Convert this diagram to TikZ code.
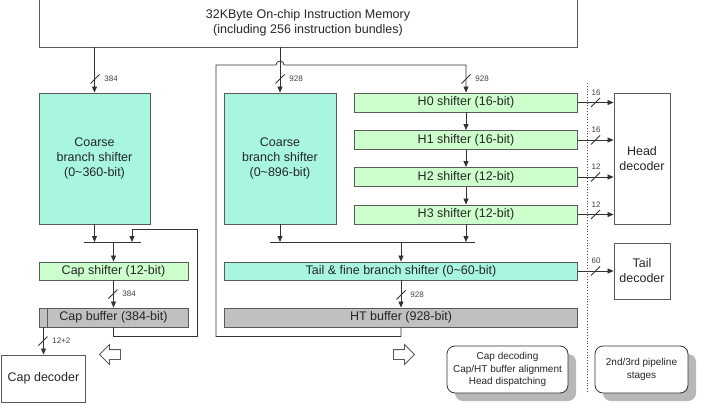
\documentclass[tikz,border=0pt]{standalone}
\usepackage{fontspec}
\setmainfont{Liberation Sans}
\usetikzlibrary{arrows.meta,shapes.arrows,shadows}
\definecolor{mintfill}{HTML}{A8F5E0}
\definecolor{shiftfill}{HTML}{CCFFCC}
\definecolor{buffill}{HTML}{C0C0C0}
\definecolor{edgegray}{HTML}{5A5A5A}
\begin{document}
\begin{tikzpicture}[x=1pt,y=-1pt,font=\fontsize{12.5}{15}\selectfont,
  >={Triangle[length=6pt,width=5pt]},
  box/.style={draw=edgegray,line width=.9pt,inner sep=0pt,align=center,text=black!85},
  wire/.style={draw=black!80,line width=.8pt},
  lbl/.style={font=\fontsize{8}{9}\selectfont,text=black!75,inner sep=1pt},
  note/.style={draw=black!80,line width=.8pt,rounded corners=8pt,fill=white,align=center,
    text=black!85,font=\fontsize{10}{12.5}\selectfont,
    drop shadow={shadow xshift=8pt,shadow yshift=-8pt,fill=black!28,opacity=1}},
  hollow/.style={single arrow,draw=edgegray,line width=.8pt,minimum height=21pt,
    inner sep=4.5pt,single arrow head extend=5pt}]
\useasboundingbox (0,0) rectangle (704,420);
%memory
\node[box,minimum width=538pt,minimum height=49pt] (mem) at (308,22.5)
  {32KByte On-chip Instruction Memory\\(including 256 instruction bundles)};
%coarse shifters
\node[box,fill=mintfill,minimum width=111pt,minimum height=131pt] (cb1) at (94.5,158.5)
  {Coarse\\branch shifter\\(0\textasciitilde360-bit)};
\node[box,fill=mintfill,minimum width=112pt,minimum height=131pt] (cb2) at (280,158.5)
  {Coarse\\branch shifter\\(0\textasciitilde896-bit)};
%head shifters
\foreach \n/\y/\b in {0/102.5/16,1/140/16,2/177/12,3/214.5/12}
\node[box,fill=shiftfill,minimum width=223pt,minimum height=19pt] (h\n) at (466,\y)
  {H\n\ shifter (\b-bit)};
%tail and buffers
\node[box,fill=mintfill,minimum width=353pt,minimum height=18pt] (tail) at (401,271)
  {Tail \& fine branch shifter (0\textasciitilde60-bit)};
\node[box,fill=buffill,minimum width=353pt,minimum height=19pt] (ht) at (401,317.5)
  {HT buffer (928-bit)};
\node[box,fill=shiftfill,minimum width=149pt,minimum height=18pt] (cs) at (113.5,271)
  {Cap shifter (12-bit)};
\node[box,fill=buffill,minimum width=149pt,minimum height=19pt] (cbuf) at (113.5,317.5)
  {Cap buffer (384-bit)};
\draw[edgegray,line width=.9pt] ([xshift=9pt]cbuf.north west) -- ([xshift=9pt]cbuf.south west);
%decoders
\node[box,minimum width=84pt,minimum height=47pt] (cdec) at (43.5,378.5) {Cap decoder};
\node[box,minimum width=56pt,minimum height=131pt] (hdec) at (642,158.5) {Head\\decoder};
\node[box,minimum width=56pt,minimum height=56pt] (tdec) at (642,271) {Tail\\decoder};
%notes
\node[note,minimum width=121pt,minimum height=47pt] (stage1) at (507.5,369.5)
  {Cap decoding\\Cap/HT buffer alignment\\Head dispatching};
\node[note,minimum width=93pt,minimum height=47pt] (stage2) at (641.5,369.5)
  {2nd/3rd pipeline\\stages};
\node[hollow,shape border rotate=180] (goleft) at (112.5,354.5) {};
\node[hollow] (goright) at (401.5,354.5) {};
%bars
\coordinate (lbarw) at (84,242);
\coordinate (lbare) at (141,242);
\coordinate (rbarw) at (270,242);
\coordinate (rbare) at (475,242);
\draw[wire] (lbarw) -- (lbare);
\draw[wire] (rbarw) -- (rbare);
%connectors
\draw[wire,->] (mem.south -| cb1) -- (cb1.north);
\draw[wire,->] (mem.south -| cb2) -- (cb2.north);
\draw[wire,->] (cb1.south) -- (cb1.south |- lbarw);
\draw[wire,->] (cb2.south) -- (cb2.south |- rbarw);
\draw[wire,->] (cs.north |- lbarw) -- (cs.north);
\draw[wire,->] (cs.south) -- (cbuf.north);
\draw[wire,->] (cdec.north |- cbuf.south) -- (cdec.north);
\foreach \a/\b in {0/1,1/2,2/3}
\draw[wire,->] (h\a) -- (h\b);
\draw[wire,->] (h3.south) -- (h3.south |- rbarw);
\draw[wire,->] (tail.north |- rbarw) -- (tail.north);
\draw[wire,->] (tail.south) -- (ht.north);
\foreach \n in {0,...,3}
\draw[wire,->] (h\n.east) -- (hdec.west |- h\n.east);
\draw[wire,->] (tail.east) -- (tdec.west);
%feedback
\coordinate (lfb) at (197,229);
\coordinate (lin) at (132,242);
\draw[wire,->] (cbuf.south) -- ++(0,9) -| (lfb) -| (lin);
\coordinate (rfb) at (216,336.5);
\draw[wire,->] (ht.south) -- (ht.south |- rfb) -| (216,65) -- (276,65)
  arc[start angle=180,end angle=0,radius=4pt] -- (h0.north |- 0,65) -- (h0.north);
%bus widths
\foreach \x/\y/\t [count=\i] in {95/79/384,280/79/928,466/79/928,113/294/384,401/295/928,43/341/12+2}
\draw[wire] (\x-4.5,\y+4.5) -- (\x+4.5,\y-4.5) (\x+8,\y) node[lbl,anchor=west] (vb\i) {\t};
\foreach \y/\t [count=\i] in {102.5/16,140/16,177/12,214.5/12,271/60}
\draw[wire] (591,\y+4.5) -- (600,\y-4.5) (596,\y-10) node[lbl] (hb\i) {\t};
%stage line
\draw[black!70,dotted,line width=.8pt] (587,83) -- (587,393);
\end{tikzpicture}
\end{document}
